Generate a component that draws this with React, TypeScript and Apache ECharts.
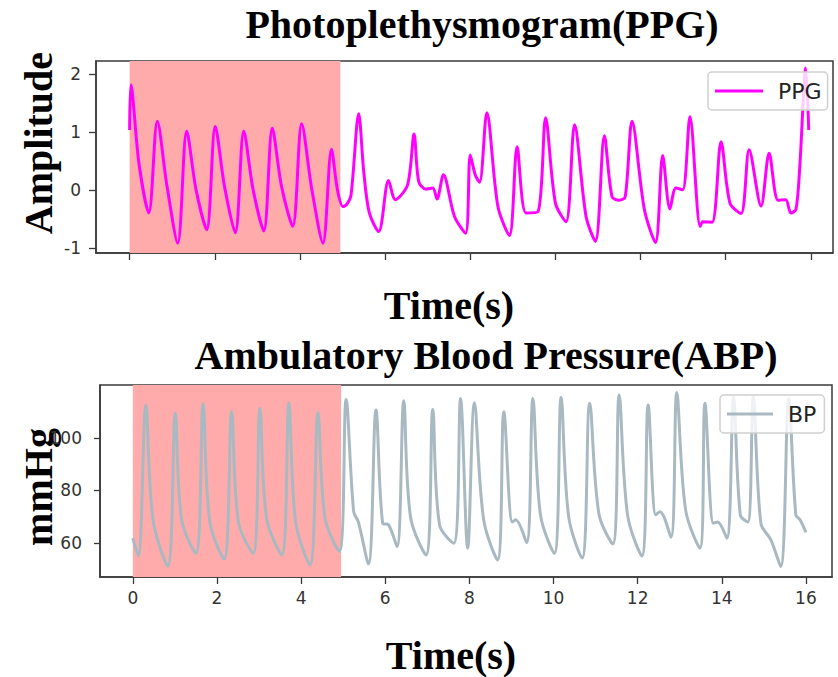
import React, { useEffect, useRef } from "react";
import * as echarts from "echarts";

// ---- Data ----
const ppgTime = [
  0, 0.03, 0.22, 0.45, 0.65, 0.88, 1.13, 1.34, 1.56, 1.81, 2.01, 2.23, 2.48, 2.68, 2.9, 3.15,
  3.35, 3.57, 3.83, 4.04, 4.28, 4.54, 4.74, 4.88, 5.01, 5.1, 5.2, 5.38, 5.5, 5.63, 5.85, 6.08,
  6.24, 6.53, 6.68, 6.79, 6.96, 7.12, 7.22, 7.37, 7.63, 7.89, 8.0, 8.12, 8.22, 8.39, 8.65, 8.92,
  9.1, 9.31, 9.59, 9.77, 10.0, 10.25, 10.45, 10.72, 10.94, 11.15, 11.33, 11.5, 11.64, 11.8, 12.09,
  12.35, 12.52, 12.69, 12.83, 12.99, 13.16, 13.4, 13.46, 13.68, 13.89, 14.1, 14.36, 14.55, 14.83,
  15.02, 15.23, 15.41, 15.53, 15.65, 15.74, 15.88, 15.95,
];
const ppgAmp = [
  1.03, 1.81, 0.45, -0.4, 1.18, 0.05, -0.92, 1.01, 0.0, -0.69, 1.09, 0.05, -0.74, 1.01, 0.0, -0.71,
  1.06, 0.05, -0.63, 1.14, 0.0, -0.92, 0.7, 0.0, -0.29, -0.25, -0.09, 1.31, 0.3, -0.4, -0.72, 0.16,
  -0.17, 0.09, 0.96, 0.14, 0.01, 0.03, -0.16, 0.26, -0.46, -0.75, 0.6, 0.25, 0.13, 1.33, -0.29, -0.79,
  0.74, -0.4, -0.38, 1.24, -0.23, -0.55, 1.12, -0.46, -0.89, 0.93, -0.12, -0.18, -0.12, 1.18, -0.34,
  -0.91, 0.59, -0.33, 0.03, 0.0, 1.26, -0.63, -0.55, -0.56, 0.83, -0.23, -0.41, 0.69, -0.28,
  0.63, -0.18, -0.17, -0.4, -0.34, 0.4, 2.1, 1.03,
];

const bpTime = [
  0, 0.13, 0.31, 0.48, 0.83, 1.01, 1.16, 1.5, 1.67, 1.83, 2.17, 2.35, 2.51, 2.86, 3.02, 3.18,
  3.54, 3.71, 3.87, 4.21, 4.4, 4.57, 4.91, 5.07, 5.25, 5.36, 5.6, 5.78, 5.94, 6.08, 6.28, 6.44,
  6.6, 6.97, 7.13, 7.29, 7.63, 7.79, 7.96, 8.12, 8.34, 8.67, 8.82, 9.02, 9.1, 9.36, 9.51, 9.69,
  10.02, 10.18, 10.36, 10.68, 10.86, 11.08, 11.41, 11.56, 11.76, 12.1, 12.25, 12.43, 12.53, 12.79,
  12.93, 13.14, 13.48, 13.6, 13.8, 13.9, 14.12, 14.28, 14.44, 14.62, 14.75, 14.93, 15.17, 15.4,
  15.59, 15.76, 15.86, 16.0,
];
const bpPressure = [
  61.8, 55, 112.6, 68.8, 51.2, 109.4, 68.8, 56, 113, 68, 53.8, 110, 68, 56, 111.3, 69.4,
  55.4, 113.4, 68, 51.6, 109.6, 69.4, 56.7, 114.7, 71.9, 68, 52, 110.7, 67.5, 66.9, 58.6, 114.2,
  70, 55.4, 110.9, 66.9, 59.9, 115.1, 58, 113.4, 68.8, 53.5, 110, 68, 68.8, 60.1, 115.1, 70.7,
  56, 115.5, 70, 54.2, 113.2, 71, 59.6, 116.4, 70.7, 55, 112.6, 70.7, 71.9, 62.2,
  117.3, 72.6, 58, 113.2, 67.5, 68, 61.8, 115.7, 70.7, 68, 115.7, 67.5, 61.1, 51,
  115.1, 70.7, 68.8, 64,
];

const timeTicks = [0, 2, 4, 6, 8, 10, 12, 14, 16];
const ppgTicks = [-1, 0, 1, 2];
const bpTicks = [60, 80, 100];
const shadeStart = 0;
const shadeEnd = 4.95;

const titles = ["Photoplethysmogram(PPG)", "Ambulatory Blood Pressure(ABP)"];
const xName = "Time(s)";
const yNames = ["Amplitude", "mmHg"];

export default function App() {
  const ref = useRef<HTMLDivElement>(null);

  useEffect(() => {
    document.body.style.margin = "0";
    const chart = echarts.init(ref.current as HTMLDivElement, null, { renderer: "svg" });
    const serif = "'Liberation Serif', 'Times New Roman', serif";
    const sans = "'DejaVu Sans', 'Noto Sans', sans-serif";
    const dark = "#3a3a3a";

    const axisLine = { show: true, onZero: false, lineStyle: { color: dark, width: 1.5 } };
    const tickStyle = { color: dark, width: 1.3 };
    const labelStyle = { color: "#333", fontSize: 17, fontFamily: sans };

    const bigText = (text: string, x: number, y: number, rot = 0) => ({
      type: "text",
      x,
      y,
      rotation: rot,
      silent: true,
      style: {
        text,
        fill: "#000",
        font: `bold 40px ${serif}`,
        align: "center",
        verticalAlign: "middle",
      },
    });

    chart.setOption({
      animation: false,
      backgroundColor: "#fff",
      grid: [
        { left: 96, top: 61, width: 737, height: 192, show: true, borderColor: dark, borderWidth: 1.5, backgroundColor: "#fff" },
        { left: 100, top: 385, width: 732, height: 192, show: true, borderColor: dark, borderWidth: 1.5, backgroundColor: "#fff" },
      ],
      xAxis: [
        {
          type: "value",
          gridIndex: 0,
          min: -0.79,
          max: 16.52,
          axisLine,
          axisTick: { show: true, customValues: timeTicks, length: 7, lineStyle: tickStyle },
          axisLabel: { show: false },
          splitLine: { show: false },
        },
        {
          type: "value",
          gridIndex: 1,
          min: -0.78,
          max: 16.62,
          axisLine,
          axisTick: { show: true, customValues: timeTicks, length: 7, lineStyle: tickStyle },
          axisLabel: { show: true, customValues: timeTicks, margin: 12, ...labelStyle },
          splitLine: { show: false },
        },
      ],
      yAxis: [
        {
          type: "value",
          gridIndex: 0,
          min: -1.09,
          max: 2.22,
          axisLine,
          axisTick: { show: true, customValues: ppgTicks, length: 7, lineStyle: tickStyle },
          axisLabel: { show: true, customValues: ppgTicks, margin: 15, ...labelStyle },
          splitLine: { show: false },
        },
        {
          type: "value",
          gridIndex: 1,
          min: 47,
          max: 120.2,
          axisLine,
          axisTick: { show: true, customValues: bpTicks, length: 6, lineStyle: tickStyle },
          axisLabel: { show: true, customValues: bpTicks, margin: 18, ...labelStyle },
          splitLine: { show: false },
        },
      ],
      legend: [
        {
          data: ["PPG"],
          left: 708,
          top: 72,
          icon: "rect",
          itemWidth: 48,
          itemHeight: 3,
          padding: [8, 6, 8, 7],
          backgroundColor: "rgba(255,255,255,0.8)",
          borderColor: "#cfcfcf",
          borderWidth: 1.5,
          borderRadius: 4,
          textStyle: { fontSize: 22, color: "#222", fontFamily: sans, padding: [0, 0, 0, 10] },
        },
        {
          data: ["BP"],
          left: 720,
          top: 395,
          icon: "rect",
          itemWidth: 46,
          itemHeight: 3,
          padding: [8, 8, 8, 7],
          backgroundColor: "rgba(255,255,255,0.8)",
          borderColor: "#cfcfcf",
          borderWidth: 1.5,
          borderRadius: 4,
          textStyle: { fontSize: 22, color: "#222", fontFamily: sans, padding: [0, 0, 0, 10] },
        },
      ],
      series: [
        {
          type: "line",
          name: "PPG",
          xAxisIndex: 0,
          yAxisIndex: 0,
          data: ppgTime.map((t, i) => [t, ppgAmp[i]]),
          symbol: "none",
          showSymbol: false,
          smooth: 0.3,
          lineStyle: { color: "#ff00ff", width: 3 },
          itemStyle: { color: "#ff00ff" },
          markArea: {
            silent: true,
            itemStyle: { color: "#ffabab", opacity: 1 },
            data: [[{ xAxis: shadeStart }, { xAxis: shadeEnd }]],
          },
        },
        {
          type: "line",
          name: "BP",
          xAxisIndex: 1,
          yAxisIndex: 1,
          data: bpTime.map((t, i) => [t, bpPressure[i]]),
          symbol: "none",
          showSymbol: false,
          smooth: 0.35,
          lineStyle: { color: "#a9b9c1", width: 3 },
          itemStyle: { color: "#a9b9c1" },
          markArea: {
            silent: true,
            itemStyle: { color: "#ffabab", opacity: 1 },
            data: [[{ xAxis: shadeStart }, { xAxis: shadeEnd }]],
          },
        },
      ],
      graphic: [
        bigText(titles[0], 482, 24),
        bigText(xName, 449, 305),
        bigText(titles[1], 486, 355),
        bigText(xName, 451, 655),
        bigText(yNames[0], 38, 143, Math.PI / 2),
        bigText(yNames[1], 38, 487, Math.PI / 2),
      ],
    });

    return () => chart.dispose();
  }, []);

  return (
    <div
      ref={ref}
      style={{ position: "absolute", left: 0, top: 0, width: 838, height: 677, background: "#fff" }}
    />
  );
}
